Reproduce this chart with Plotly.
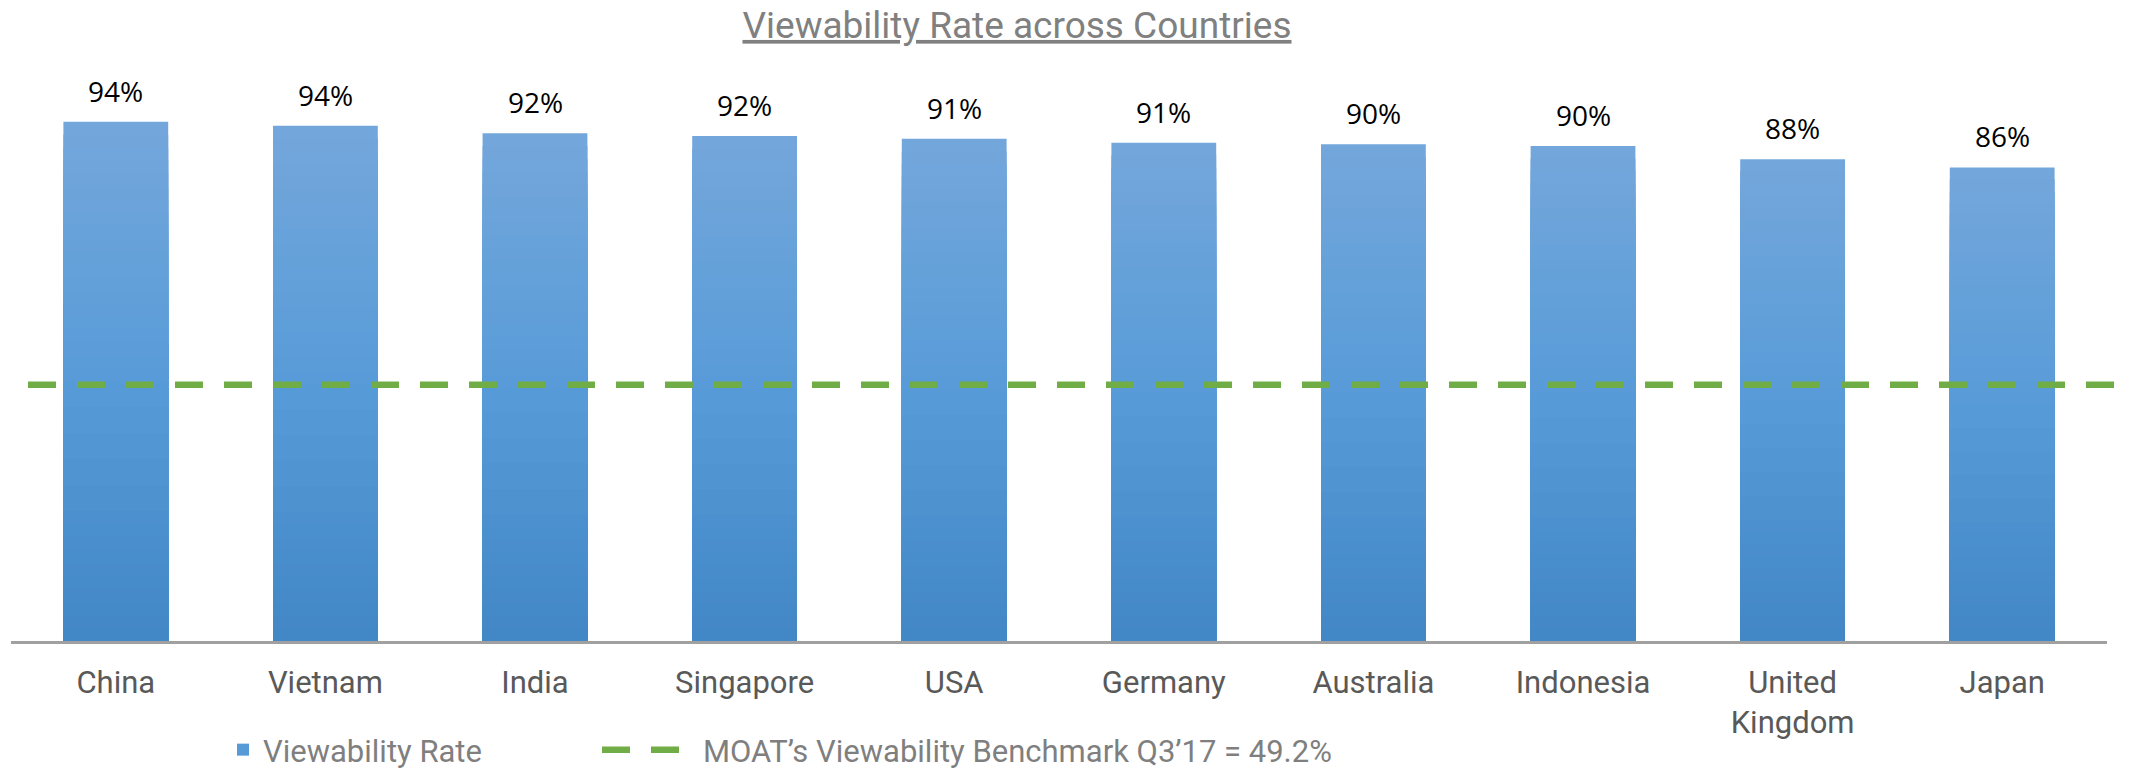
import plotly.graph_objects as go

countries = ["China", "Vietnam", "India", "Singapore", "USA", "Germany",
             "Australia", "Indonesia", "United<br>Kingdom", "Japan"]
viewability = [94.4, 93.7, 92.3, 91.8, 91.3, 90.6, 90.3, 90.0, 87.6, 86.1]
benchmark_value = 49.2
benchmark_span = [0, 1]

bar_name = "Viewability Rate"
line_name = "MOAT\u2019s Viewability Benchmark Q3\u201917 = 49.2%"
title_text = "Viewability Rate across Countries"

# gradient stops (top -> middle -> bottom)
top_rgb = (116, 167, 219)
mid_rgb = (88, 155, 216)
bot_rgb = (66, 135, 198)


def grad_color(t):
    if t >= 0.5:
        u = (t - 0.5) / 0.5
        a, b = mid_rgb, top_rgb
    else:
        u = t / 0.5
        a, b = bot_rgb, mid_rgb
    c = [round(a[i] + (b[i] - a[i]) * u) for i in range(3)]
    return f"rgb({c[0]},{c[1]},{c[2]})"


W, H = 2139, 772
PL, PR, PT, PB = 11, 2125, 91, 641          # plot-area box in pixels
AXIS_END = 2107                              # where the category axis ends
LINE_START = 28                              # where the benchmark line starts
pw = PR - PL
ph = PB - PT

fig = go.Figure()

N = 40
legend_layer = N // 2
for k in range(N, 0, -1):
    frac = k / N
    fig.add_trace(go.Bar(
        x=countries,
        y=[v * frac for v in viewability],
        marker=dict(color=grad_color(frac - 0.5 / N), line=dict(width=0)),
        name=bar_name,
        showlegend=(k == legend_layer),
        legend="legend",
        hoverinfo="skip",
    ))

fig.add_trace(go.Scatter(
    x=benchmark_span,
    y=[benchmark_value] * len(benchmark_span),
    xaxis="x2",
    yaxis="y2",
    mode="lines",
    line=dict(color="#70AD47", width=6.5, dash="28px,21px"),
    name=line_name,
    legend="legend2",
))

for c, v in zip(countries, viewability):
    fig.add_annotation(
        x=c, y=v, xref="x", yref="y",
        text=f"{v:.0f}%",
        showarrow=False,
        yanchor="bottom",
        yshift=10,
        font=dict(family="Open Sans", size=28, color="#000000"),
    )

legend_y = (PB - 750) / ph
legend_font = dict(family="Roboto", size=31, color="#7F7F7F")

fig.update_layout(
    width=W,
    height=H,
    margin=dict(l=PL, r=W - PR, t=PT, b=H - PB, autoexpand=False),
    paper_bgcolor="white",
    plot_bgcolor="rgba(0,0,0,0)",
    barmode="overlay",
    bargap=0.5,
    title=dict(
        text=f"<u>{title_text}</u>",
        x=(741 + 1293) / 2 / W,
        xanchor="center",
        y=1 - 25 / H,
        yanchor="middle",
        yref="container",
        font=dict(family="Roboto", size=37, color="#808080"),
    ),
    xaxis=dict(
        type="category",
        domain=[0, (AXIS_END - PL) / pw],
        showline=True,
        linecolor="#A0A0A0",
        linewidth=2.5,
        showgrid=False,
        zeroline=False,
        ticks="",
        ticklabelstandoff=12,
        tickfont=dict(family="Roboto", size=31, color="#595959"),
    ),
    yaxis=dict(range=[0, 100], domain=[0, 1], visible=False,
               showgrid=False, zeroline=False),
    xaxis2=dict(domain=[(LINE_START - PL) / pw, 1], range=[0, 1],
                anchor="y2", visible=False),
    yaxis2=dict(domain=[0, 1], range=[0, 105.6], anchor="x2", visible=False),
    legend=dict(
        orientation="h",
        x=(223 - PL) / pw,
        xanchor="left",
        y=legend_y,
        yanchor="middle",
        itemwidth=30,
        font=legend_font,
        bgcolor="rgba(0,0,0,0)",
    ),
    legend2=dict(
        orientation="h",
        x=(597 - PL) / pw,
        xanchor="left",
        y=legend_y,
        yanchor="middle",
        itemwidth=96,
        font=legend_font,
        bgcolor="rgba(0,0,0,0)",
    ),
    showlegend=True,
)

fig.write_html(
    "out.html",
    config={"displayModeBar": False},
    post_script="document.body.style.margin='0px';document.body.style.overflow='hidden';",
)
